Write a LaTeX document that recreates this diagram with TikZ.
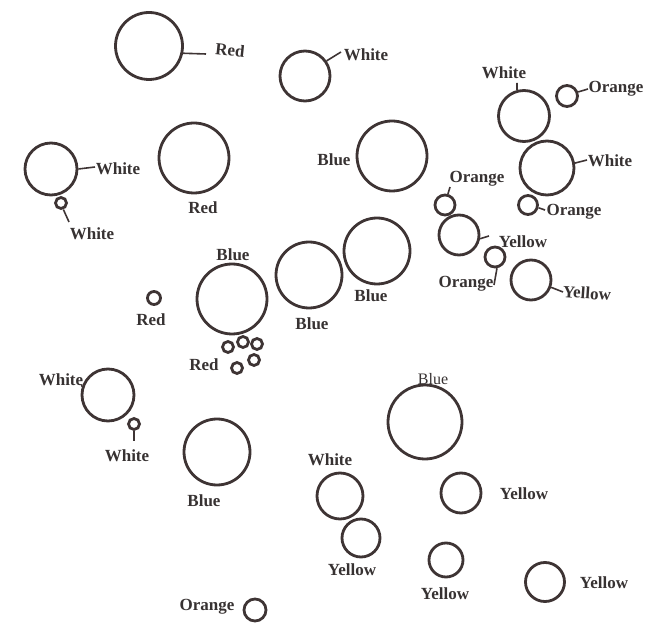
\documentclass[tikz,border=0pt]{standalone}
\usepackage{fontspec}
\setmainfont{Liberation Serif}
\definecolor{ink}{RGB}{62,52,52}
\definecolor{txt}{RGB}{55,50,50}
\begin{document}
\begin{tikzpicture}[x=1pt,y=-1pt,
  ring/.style={circle,draw=ink,line width=2.8pt,inner sep=0pt,minimum size=#1},
  lab/.style={text=txt,font=\bfseries\fontsize{17}{17}\selectfont,inner sep=0pt},
  labthin/.style={text=txt,font=\fontsize{16}{16}\selectfont,inner sep=0pt},
  tick/.style={draw=ink,line width=1.6pt}]
\useasboundingbox (0,0) rectangle (670,628);
% circles
\node[ring=67] (c1) at (149,46) {};
\node[ring=50] (c2) at (305,76) {};
\node[ring=51] (c3) at (524,116) {};
\node[ring=21] (c4) at (567,96) {};
\node[ring=54] (c5) at (547,168) {};
\node[ring=70] (c6) at (392,156) {};
\node[ring=52] (c7) at (51,169) {};
\node[ring=11] (c8) at (61,203) {};
\node[ring=70] (c9) at (194,158) {};
\node[ring=20] (c10) at (445,205) {};
\node[ring=19] (c11) at (528,205) {};
\node[ring=40] (c12) at (459,235) {};
\node[ring=20] (c13) at (495,257) {};
\node[ring=40] (c14) at (531,280) {};
\node[ring=66] (c15) at (377,251) {};
\node[ring=66] (c16) at (309,275) {};
\node[ring=70] (c17) at (232,299) {};
\node[ring=13] (c18) at (154,298) {};
\node[ring=11] (r1) at (228,347) {};
\node[ring=11] (r2) at (243,342) {};
\node[ring=11] (r3) at (257,344) {};
\node[ring=11] (r4) at (237,368) {};
\node[ring=11] (r5) at (254,360) {};
\node[ring=52] (c20) at (108,395) {};
\node[ring=11] (c21) at (134,424) {};
\node[ring=66] (c22) at (217,452) {};
\node[ring=74] (c23) at (425,422) {};
\node[ring=46] (c24) at (340,496) {};
\node[ring=38] (c25) at (361,538) {};
\node[ring=40] (c26) at (461,493) {};
\node[ring=34] (c27) at (446,560) {};
\node[ring=39] (c28) at (545,582) {};
\node[ring=22] (c29) at (255,610) {};
% labels
\node[lab,rotate=-6] (l1) at (230,50) {Red};
\node[lab] (l2) at (366,55) {White};
\node[lab] (l3) at (504,73) {White};
\node[lab] (l4) at (616,89) {Orange};
\node[lab] (l5) at (610,161) {White};
\node[lab] (l6) at (334,160) {Blue};
\node[lab] (l7) at (118,169) {White};
\node[lab] (l8) at (92,234) {White};
\node[lab] (l9) at (203,208) {Red};
\node[lab] (l10) at (477,179) {Orange};
\node[lab] (l11) at (574,212) {Orange};
\node[lab] (l12) at (523,242) {Yellow};
\node[lab] (l13) at (466,284) {Orange};
\node[lab,rotate=-4] (l14) at (587,293) {Yellow};
\node[lab] (l15) at (371,296) {Blue};
\node[lab] (l16) at (312,324) {Blue};
\node[lab] (l17) at (233,255) {Blue};
\node[lab] (l18) at (151,320) {Red};
\node[lab] (l19) at (204,365) {Red};
\node[lab] (l20) at (61,380) {White};
\node[lab] (l21) at (127,456) {White};
\node[lab] (l22) at (204,501) {Blue};
\node[labthin] (l23) at (433,379) {Blue};
\node[lab] (l24) at (330,460) {White};
\node[lab] (l25) at (352,570) {Yellow};
\node[lab] (l26) at (524,494) {Yellow};
\node[lab] (l27) at (445,594) {Yellow};
\node[lab] (l28) at (604,583) {Yellow};
\node[lab] (l29) at (207,607) {Orange};
% ticks
\coordinate (t1) at (206,54);
\coordinate (t2) at (341,52);
\coordinate (t3) at (517,83);
\coordinate (t4) at (588,89);
\coordinate (t5) at (587,160);
\coordinate (t7) at (95,167);
\coordinate (t8) at (69,222);
\coordinate (t10) at (450,187);
\coordinate (t11) at (545,210);
\coordinate (t12) at (489,236);
\coordinate (t13) at (494,285);
\coordinate (t14) at (563,292);
\coordinate (t20) at (81,386);
\coordinate (t21) at (134,441);
\draw[tick] (c1.-12) -- (t1);
\draw[tick] (c2.35) -- (t2);
\draw[tick] (c3.105) -- (t3);
\draw[tick] (c4.20) -- (t4);
\draw[tick] (c5.10) -- (t5);
\draw[tick] (c7.0) -- (t7);
\draw[tick] (c8.-70) -- (t8);
\draw[tick] (c10.75) -- (t10);
\draw[tick] (c11.-15) -- (t11);
\draw[tick] (c12.-10) -- (t12);
\draw[tick] (c13.-80) -- (t13);
\draw[tick] (c14.-20) -- (t14);
\draw[tick] (c20.160) -- (t20);
\draw[tick] (c21.-90) -- (t21);
\end{tikzpicture}
\end{document}
